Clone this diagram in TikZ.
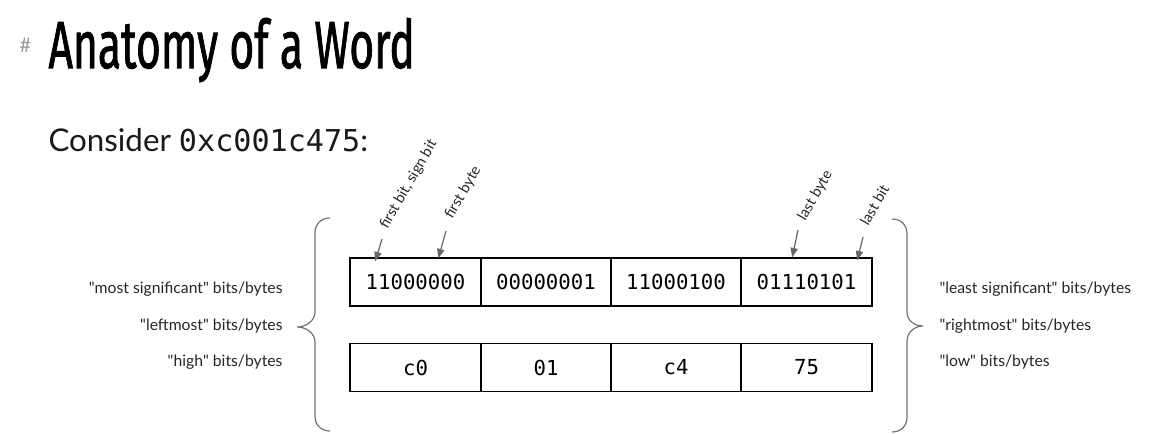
\documentclass[tikz,border=0pt]{standalone}
\usepackage{fontspec}
\setmainfont{Lato}
\setmonofont{DejaVu Sans Mono}
\newfontfamily\titlefont[FakeBold=1.6]{Fira Sans}
\usetikzlibrary{arrows.meta}

\tikzset{every picture/.style={line width=0.75pt}}
\tikzset{
  bytebox/.style={draw=black, line width=1.1pt, minimum width=98.25pt, minimum height=36pt, inner sep=0pt, font=\ttfamily\fontsize{15.5}{18}\selectfont},
  sidelbl/.style={inner sep=0pt, text=black!85, font=\fontsize{11.8}{14}\selectfont},
  tiltlbl/.style={inner sep=0pt, rotate=60, anchor=base west, text=black!85, font=\fontsize{11}{13}\selectfont},
  pointer/.style={draw=black!60, line width=0.9pt, -{Triangle[length=7pt,width=5.5pt]}},
  bracket/.style={draw=black!55, line width=0.9pt}
}

\begin{document}
\begin{tikzpicture}[x=0.75pt,y=0.75pt,yscale=-1,xscale=1]
\useasboundingbox (0,0) rectangle (1172,434);

% Title
\node [anchor=base west, inner sep=0pt, text=black!40, font=\fontsize{15}{18}\selectfont] (hash) at (19,53) {\#};
\node [anchor=base west, inner sep=0pt, font=\titlefont\fontsize{50}{60}\selectfont] (title) at (48,68) {\scalebox{0.64}[1]{Anatomy of a Word}};
% Subtitle
\node [anchor=base west, inner sep=0pt, text=black!90, font=\fontsize{23.5}{28}\selectfont] (consider) at (48,152) {Consider {\fontsize{22.6}{27}\selectfont\texttt{0xc001c475}}:};

% Bits row
\node [bytebox] (b1) at (415.5,282) {11000000};
\node [bytebox] (b2) at (546,282) {00000001};
\node [bytebox] (b3) at (676,282) {11000100};
\node [bytebox] (b4) at (806.5,282) {01110101};
% Hex row
\node [bytebox] (h1) at (415.5,367.5) {c0};
\node [bytebox] (h2) at (546,367.5) {01};
\node [bytebox] (h3) at (676,367.5) {c4};
\node [bytebox] (h4) at (806.5,367.5) {75};

% Tilted labels
\node [tiltlbl] (fbit) at (387,230) {first bit, sign bit};
\node [tiltlbl] (fbyte) at (452,220) {first byte};
\node [tiltlbl] (lbyte) at (805,222) {last byte};
\node [tiltlbl] (lbit) at (868,227) {last bit};

% Pointers
\draw [pointer] ([shift={(-5,9)}]fbit.base west) -- ([shift={(26,4)}]b1.north west);
\draw [pointer] ([shift={(-6,11)}]fbyte.base west) -- ([shift={(89,1)}]b1.north west);
\draw [pointer] ([shift={(-7,8)}]lbyte.base west) -- ([shift={(52,0)}]b4.north west);
\draw [pointer] ([shift={(-5,10)}]lbit.base west) -- ([shift={(117,3)}]b4.north west);

% Left bracket
\draw [bracket] (330,218) .. controls (321,218) and (315,224) .. (315,233) -- (315,312) .. controls (315,321) and (306,327) .. (297,327) .. controls (306,327) and (315,333) .. (315,342) -- (315,416) .. controls (315,425) and (321,431) .. (330,431);
% Right bracket
\draw [bracket] (892,219) .. controls (901,219) and (907,225) .. (907,234) -- (907,312) .. controls (907,321) and (915,326) .. (923,326) .. controls (915,326) and (907,332) .. (907,341) -- (907,417) .. controls (907,426) and (901,432) .. (892,432);

% Left side labels
\node [sidelbl, anchor=base east] (msb) at (283,294) {\textquotedbl most significant\textquotedbl{} bits/bytes};
\node [sidelbl, anchor=base east] (left) at (283,331) {\textquotedbl leftmost\textquotedbl{} bits/bytes};
\node [sidelbl, anchor=base east] (high) at (283,367) {\textquotedbl high\textquotedbl{} bits/bytes};
% Right side labels
\node [sidelbl, anchor=base west] (lsb) at (939,294) {\textquotedbl least significant\textquotedbl{} bits/bytes};
\node [sidelbl, anchor=base west] (right) at (939,331) {\textquotedbl rightmost\textquotedbl{} bits/bytes};
\node [sidelbl, anchor=base west] (low) at (939,367) {\textquotedbl low\textquotedbl{} bits/bytes};

\end{tikzpicture}
\end{document}
